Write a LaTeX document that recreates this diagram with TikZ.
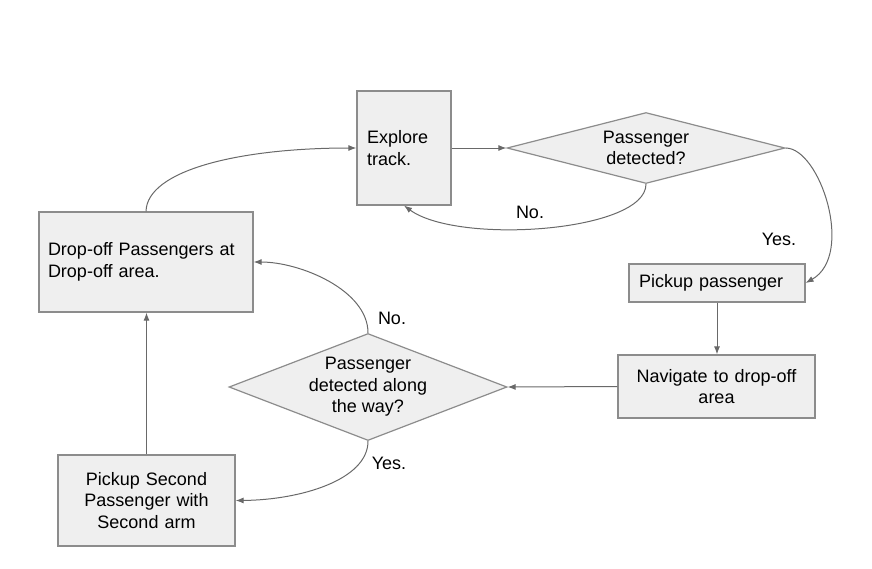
\documentclass[tikz,border=0pt]{standalone}
\usepackage{fontspec}
\setmainfont{Liberation Sans}
\usetikzlibrary{shapes.geometric,arrows.meta}
\definecolor{boxfill}{RGB}{239,239,239}
\definecolor{boxline}{RGB}{140,140,140}
\definecolor{arrline}{RGB}{105,105,105}
\begin{document}
\begin{tikzpicture}[x=1pt,y=-1pt,
  every node/.style={font=\fontsize{18}{21.5}\selectfont},
  box/.style={draw=boxline,fill=boxfill,line width=1.2pt,rectangle,inner ysep=0pt},
  dia/.style={draw=boxline,fill=boxfill,line width=1.2pt,diamond,inner sep=0pt},
  conn/.style={draw=arrline,line width=1pt,-{Latex[length=8pt,width=6pt]}},
  lbl/.style={inner sep=0pt}]
\useasboundingbox (0,0) rectangle (872,568);

\node[box,minimum width=94pt,minimum height=114pt,inner xsep=10pt,text width=74pt,align=left] (ex) at (404,148) {Explore\\track.};
\node[dia,minimum width=278pt,minimum height=71pt] (d1) at (646,148) {};
\node[lbl,align=center] (d1t) at (d1.center) {Passenger\\detected?};
\node[box,minimum width=176pt,minimum height=38pt,inner xsep=10pt,text width=156pt,align=left] (pp) at (717,283) {Pickup passenger};
\node[box,minimum width=197pt,minimum height=63pt,inner xsep=10pt,text width=177pt,align=center] (nav) at (716.5,386.5) {Navigate to drop-off\\area};
\node[dia,minimum width=278pt,minimum height=107pt] (d2) at (368,387) {};
\node[lbl,align=center] (d2t) at (d2.center) {Passenger\\detected along\\the way?};
\node[box,minimum width=214pt,minimum height=100pt,inner xsep=9pt,text width=196pt,align=left] (do) at (146,262) {Drop-off Passengers at\\Drop-off area.};
\node[box,minimum width=177pt,minimum height=91pt,inner xsep=8pt,text width=161pt,align=center] (ps) at (146.5,500.5) {Pickup Second\\Passenger with\\Second arm};

\draw[conn] (ex.east) -- (d1.west);
\draw[conn] (d1.east) .. controls (820,148) and (855,255) .. (pp.east);
\draw[conn] (d1.south) .. controls (646,232) and (458,245) .. (ex.south);
\draw[conn] (pp.south) -- (pp.south |- nav.north);
\draw[conn] (nav.west) -- (d2.east);
\draw[conn] (d2.north) .. controls (368,290) and (300,262) .. (do.east);
\draw[conn] (d2.south) .. controls (368,480) and (300,500) .. (ps.east);
\draw[conn] (ps.north) -- (ps.north |- do.south);
\draw[conn] (do.north) .. controls (147,170) and (240,148) .. (ex.west);

\node[lbl] (l1) at (530,212) {No.};
\node[lbl] (l2) at (779,239) {Yes.};
\node[lbl] (l3) at (392,318) {No.};
\node[lbl] (l4) at (389,463) {Yes.};
\end{tikzpicture}
\end{document}
